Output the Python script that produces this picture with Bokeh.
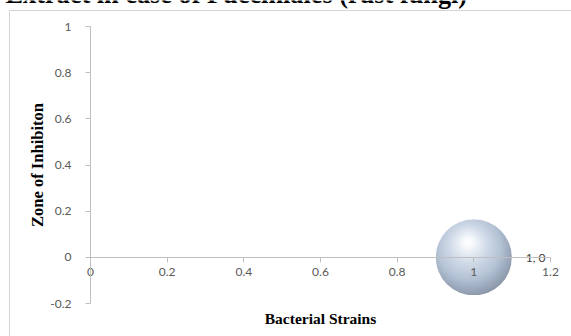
import base64
from bokeh.plotting import figure
from bokeh.models import (LinearAxis, FixedTicker, Label, BoxAnnotation,
                          ColumnDataSource, Range1d)
from bokeh.core.properties import value
from bokeh.embed import file_html
from bokeh.resources import INLINE

# ---- data ----
title_text = "Extract in case of Pucciniales (rust fungi)"
x_title = "Bacterial Strains"
y_title = "Zone of Inhibiton"
x_ticks = [0, 0.2, 0.4, 0.6, 0.8, 1, 1.2]
x_tick_labels = ["0", "0.2", "0.4", "0.6", "0.8", "1", "1.2"]
y_ticks = [-0.2, 0, 0.2, 0.4, 0.6, 0.8, 1]
y_tick_labels = ["-0.2", "0", "0.2", "0.4", "0.6", "0.8", "1"]
bubble_x = [1]
bubble_y = [0]
bubble_labels = ["1, 0"]

# ---- layout (pixels) ----
W, H = 571, 336
PX_X0, PX_X1 = 90, 550      # pixel columns of the first / last x tick
PY_Y1, PY_Y0 = 26, 303      # pixel rows of the top / bottom y tick
AX = "#bfbfbf"
TICK_TXT = "#595959"

xmin, xmax = x_ticks[0], x_ticks[-1]
ymin, ymax = y_ticks[0], y_ticks[-1]
sx = (PX_X1 - PX_X0) / (xmax - xmin)
sy = (PY_Y0 - PY_Y1) / (ymax - ymin)
x_range = Range1d(xmin - PX_X0 / sx, xmax + (W - PX_X1) / sx)
y_range = Range1d(ymin - (H - PY_Y0) / sy, ymax + PY_Y1 / sy)

sphere_svg = """<svg xmlns="http://www.w3.org/2000/svg" width="200" height="200" viewBox="0 0 200 200">
<defs>
<radialGradient id="g" cx="0.44" cy="0.40" r="0.62" fx="0.42" fy="0.29">
<stop offset="0" stop-color="#ffffff"/>
<stop offset="0.12" stop-color="#f4f7fb"/>
<stop offset="0.40" stop-color="#cfd9e7"/>
<stop offset="0.68" stop-color="#b4c2d5"/>
<stop offset="0.88" stop-color="#99a6b9"/>
<stop offset="1" stop-color="#8995a7"/>
</radialGradient>
</defs>
<circle cx="100" cy="100" r="100" fill="url(#g)"/>
</svg>"""
sphere_url = "data:image/svg+xml;base64," + base64.b64encode(sphere_svg.encode()).decode()

src = ColumnDataSource(dict(x=bubble_x, y=bubble_y, label=bubble_labels,
                            url=[sphere_url] * len(bubble_x)))

p = figure(width=W, height=H, x_range=x_range, y_range=y_range,
           x_axis_type=None, y_axis_type=None,
           output_backend="svg", toolbar_location=None,
           min_border=0, min_border_left=0, min_border_right=0,
           min_border_top=0, min_border_bottom=0)
p.outline_line_color = None
p.background_fill_color = "white"
p.border_fill_color = "white"


def style_axis(ax, ticks, labels):
    ax.ticker = FixedTicker(ticks=ticks, minor_ticks=[])
    ax.bounds = (ticks[0], ticks[-1])
    ax.major_label_overrides = {t: l for t, l in zip(ticks, labels)}
    ax.axis_line_color = AX
    ax.major_tick_line_color = AX
    ax.minor_tick_line_color = None
    ax.major_tick_in = 0
    ax.major_tick_out = 5
    ax.major_label_text_font = "Lato"
    ax.major_label_text_font_size = "12px"
    ax.major_label_text_color = TICK_TXT


# chart-area border (runs off the right and bottom edges)
p.add_layout(BoxAnnotation(left=9, right=W + 100, top=H - 10, bottom=-100,
                           left_units="screen", right_units="screen",
                           top_units="screen", bottom_units="screen",
                           fill_color=None, fill_alpha=0,
                           line_color="#d4d4d4", line_width=1, line_alpha=1))

yax = LinearAxis(fixed_location=xmin)
style_axis(yax, y_ticks, y_tick_labels)
yax.major_label_standoff = 14
yax.axis_label = y_title
yax.axis_label_text_font = "Liberation Serif"
yax.axis_label_text_font_style = "bold"
yax.axis_label_text_font_size = "16.5px"
yax.axis_label_text_color = "black"
yax.axis_label_standoff = 0
p.add_layout(yax, "left")

xax = LinearAxis(fixed_location=0)
style_axis(xax, x_ticks, x_tick_labels)
xax.major_label_standoff = 6
p.add_layout(xax, "below")

xlab = LinearAxis(fixed_location=ymin, bounds=(xmin, xmax),
                  ticker=FixedTicker(ticks=[], minor_ticks=[]),
                  axis_line_color=None, major_tick_line_color=None,
                  minor_tick_line_color=None, major_tick_out=0, major_tick_in=0,
                  major_label_text_font_size="0px",
                  axis_label=x_title, axis_label_standoff=6,
                  axis_label_text_font="Liberation Serif",
                  axis_label_text_font_style="bold",
                  axis_label_text_font_size="15.5px",
                  axis_label_text_color="black")
p.add_layout(xlab, "below")

# bubble
p.scatter("x", "y", size=75, fill_color="#b9c7d9", line_color=None, source=src)
p.image_url(url="url", x="x", y="y", w=76, h=76, w_units="screen",
            h_units="screen", anchor="center", source=src)
p.text("x", "y", text="label", x_offset=52, text_baseline="middle",
       text_align="left", text_font=value("Lato"), text_font_size="12px",
       text_color="#404040", source=src)

# title, cropped at the top of the page
p.add_layout(Label(x=5, y=H + 6, x_units="screen", y_units="screen",
                   text=title_text, text_font="Liberation Serif",
                   text_font_style="bold", text_font_size="26.3px",
                   text_color="black", text_baseline="alphabetic"))

open("out.html", "w").write(file_html(p, INLINE))
